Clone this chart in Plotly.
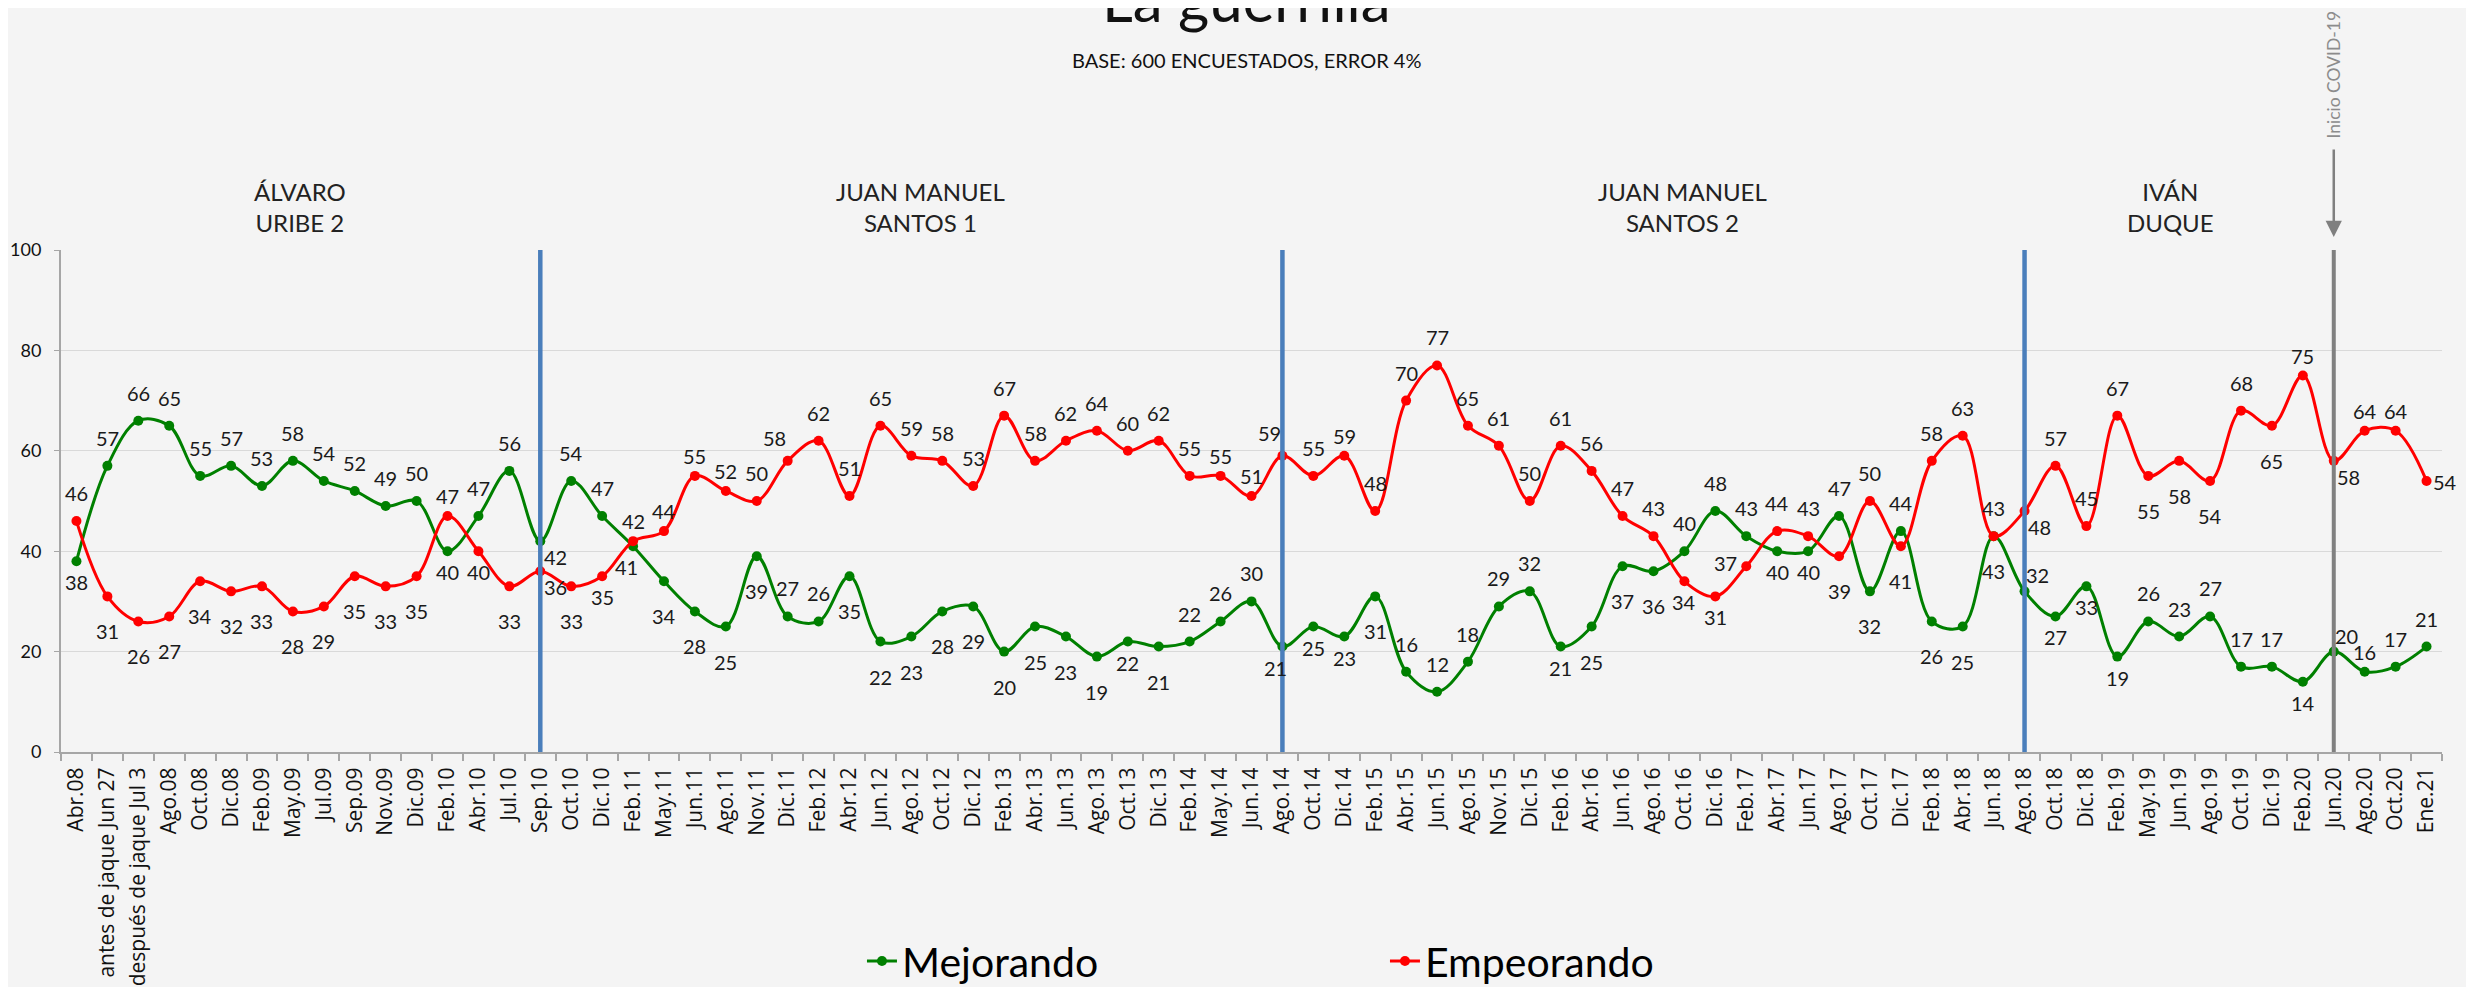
import plotly.graph_objects as go

categories = [
    "Abr.08", "antes de jaque Jun 27", "después de jaque Jul 3", "Ago.08", "Oct.08", "Dic.08",
    "Feb.09", "May.09", "Jul.09", "Sep.09", "Nov.09", "Dic.09", "Feb.10", "Abr.10", "Jul.10",
    "Sep.10", "Oct.10", "Dic.10", "Feb.11", "May.11", "Jun.11", "Ago.11", "Nov.11", "Dic.11",
    "Feb.12", "Abr.12", "Jun.12", "Ago.12", "Oct.12", "Dic.12", "Feb.13", "Abr.13", "Jun.13",
    "Ago.13", "Oct.13", "Dic.13", "Feb.14", "May.14", "Jun.14", "Ago.14", "Oct.14", "Dic.14",
    "Feb.15", "Abr.15", "Jun.15", "Ago.15", "Nov.15", "Dic.15", "Feb.16", "Abr.16", "Jun.16",
    "Ago.16", "Oct.16", "Dic.16", "Feb.17", "Abr.17", "Jun.17", "Ago.17", "Oct.17", "Dic.17",
    "Feb.18", "Abr.18", "Jun.18", "Ago.18", "Oct.18", "Dic.18", "Feb.19", "May.19", "Jun.19",
    "Ago.19", "Oct.19", "Dic.19", "Feb.20", "Jun.20", "Ago.20", "Oct.20", "Ene.21",
]

mejorando = [
    38, 57, 66, 65, 55, 57, 53, 58, 54, 52,
    49, 50, 40, 47, 56, 42, 54, 47, 41, 34,
    28, 25, 39, 27, 26, 35, 22, 23, 28, 29,
    20, 25, 23, 19, 22, 21, 22, 26, 30, 21,
    25, 23, 31, 16, 12, 18, 29, 32, 21, 25,
    37, 36, 40, 48, 43, 40, 40, 47, 32, 44,
    26, 25, 43, 32, 27, 33, 19, 26, 23, 27,
    17, 17, 14, 20, 16, 17, 21,
]

empeorando = [
    46, 31, 26, 27, 34, 32, 33, 28, 29, 35,
    33, 35, 47, 40, 33, 36, 33, 35, 42, 44,
    55, 52, 50, 58, 62, 51, 65, 59, 58, 53,
    67, 58, 62, 64, 60, 62, 55, 55, 51, 59,
    55, 59, 48, 70, 77, 65, 61, 50, 61, 56,
    47, 43, 34, 31, 37, 44, 43, 39, 50, 41,
    58, 63, 43, 48, 57, 45, 67, 55, 58, 54,
    68, 65, 75, 58, 64, 64, 54,
]

# label placement codes (style only)
mej_pos = ("b2 a a a a a a a a a "
           "a a b2 a a br a a bl b "
           "b b b a a b b b b b "
           "b b b b b2 b a a a bl "
           "b2 b2 b a a a a a b2 b "
           "b b a a a b2 b2 a b a "
           "b b b ar b2 b2 b2 a a a "
           "a a b2 ar a2 a a").split()
emp_pos = ("a b b b b b b b b b "
           "b b a2 b2 b br b b2 a2 a2 "
           "a2 a2 a al a a a a a a "
           "a a a a a a a a2 a2 al "
           "a a2 a a a a a a a a "
           "a a b2 b2 l a a b a b "
           "a a a br a a a b b b "
           "a b a2 br a2 a2 r").split()

periodos = ["ÁLVARO<br>URIBE 2", "JUAN MANUEL<br>SANTOS 1", "JUAN MANUEL<br>SANTOS 2", "IVÁN<br>DUQUE"]
periodo_x = [0.1004, 0.3608, 0.6812, 0.8858]
cortes = ["Sep.10", "Ago.14", "Ago.18"]
covid = "Jun.20"

OFFS = {
    "a": (0, -28), "a2": (0, -20), "b": (0, 35), "b2": (0, 21),
    "ar": (13, -16), "br": (15, 16), "bl": (-7, 21), "al": (-13, -23),
    "l": (-21, -3), "r": (18, 1),
}

GREEN = "#008000"
RED = "#ff0000"
FONT = "Lato"

fig = go.Figure()
fig.add_trace(go.Scatter(
    x=categories, y=mejorando, name="Mejorando", mode="lines+markers",
    line=dict(color=GREEN, width=3, shape="spline", smoothing=1),
    marker=dict(color=GREEN, size=10),
))
fig.add_trace(go.Scatter(
    x=categories, y=empeorando, name="Empeorando", mode="lines+markers",
    line=dict(color=RED, width=3, shape="spline", smoothing=1),
    marker=dict(color=RED, size=10),
))

annotations = []
for vals, pos in ((mejorando, mej_pos), (empeorando, emp_pos)):
    for i, (v, p) in enumerate(zip(vals, pos)):
        dx, dy = OFFS[p]
        annotations.append(dict(
            x=i, y=v, xref="x", yref="y", text=str(v), showarrow=False,
            xshift=dx, yshift=-dy, font=dict(family=FONT, size=20, color="#1a1a1a"),
        ))

for txt, px in zip(periodos, periodo_x):
    annotations.append(dict(
        x=px, y=1.085, xref="paper", yref="paper", text=txt, showarrow=False,
        xanchor="center", yanchor="middle", align="center",
        font=dict(family=FONT, size=24, color="#222222"),
    ))

# title and subtitle
annotations.append(dict(
    x=0.498, y=1.50, xref="paper", yref="paper", text="La guerrilla", showarrow=False,
    xanchor="center", yanchor="middle", font=dict(family=FONT, size=60, color="#111111"),
))
annotations.append(dict(
    x=0.4977, y=1.378, xref="paper", yref="paper", text="BASE: 600 ENCUESTADOS, ERROR 4%",
    showarrow=False, xanchor="center", yanchor="middle",
    font=dict(family=FONT, size=20, color="#111111"),
))

ci = categories.index(covid)
annotations.append(dict(
    x=ci, y=1.026, xref="x", yref="paper", ax=0, ay=-89, axref="pixel", ayref="pixel",
    text="", showarrow=True, arrowhead=2, arrowsize=1.3, arrowwidth=2.5, arrowcolor="#7f7f7f",
))
annotations.append(dict(
    x=ci, y=1.349, xref="x", yref="paper", text="Inicio COVID-19", showarrow=False,
    textangle=-90, xanchor="center", yanchor="middle",
    font=dict(family=FONT, size=17.5, color="#8c8c8c"),
))

shapes = []
for c in cortes:
    k = categories.index(c)
    shapes.append(dict(type="line", xref="x", yref="y", x0=k, x1=k, y0=0, y1=100,
                       line=dict(color="#4a7ebb", width=4.5), layer="above"))
shapes.append(dict(type="line", xref="x", yref="y", x0=ci, x1=ci, y0=0, y1=100,
                   line=dict(color="#808080", width=4), layer="above"))

# page body adds an 8px offset, so the figure is 8px smaller and margins shifted
fig.update_layout(
    width=2466, height=979,
    margin=dict(l=53, r=32, t=242, b=235, autoexpand=False),
    paper_bgcolor="#f4f4f4", plot_bgcolor="rgba(0,0,0,0)",
    font=dict(family=FONT, color="#111111"),
    showlegend=True,
    legend=dict(orientation="h", x=0.3364, y=-0.417, xanchor="left", yanchor="middle",
                font=dict(family=FONT, size=41, color="#000000"),
                entrywidth=478, entrywidthmode="pixels", bgcolor="rgba(0,0,0,0)"),
    annotations=annotations,
    shapes=shapes,
    xaxis=dict(
        type="category", range=[-0.5, len(categories) - 0.5],
        tickangle=-90, tickfont=dict(family="Open Sans", size=21, color="#111111"),
        ticks="outside", tickson="boundaries", ticklen=7, tickcolor="#a6a6a6", tickwidth=1.5,
        ticklabelstandoff=5,
        showline=True, linecolor="#a6a6a6", linewidth=2, showgrid=False, automargin=False,
    ),
    yaxis=dict(
        range=[0, 100], dtick=20, tickfont=dict(family=FONT, size=18, color="#111111"),
        ticks="outside", ticklen=5, tickcolor="#a6a6a6", ticklabelstandoff=9,
        showline=True, linecolor="#a6a6a6", linewidth=2,
        showgrid=True, gridcolor="#d9d9d9", gridwidth=1, zeroline=False, automargin=False,
    ),
)

fig.write_html("out.html")
